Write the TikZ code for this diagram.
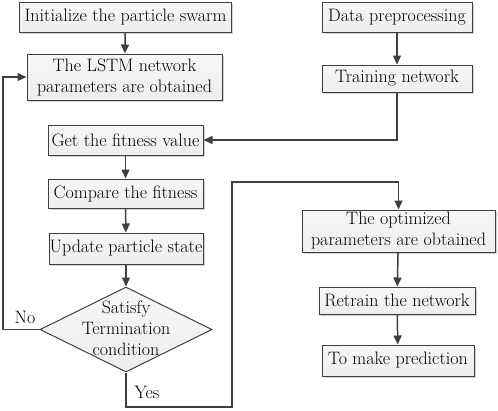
\documentclass[tikz,border=0pt]{standalone}
\usetikzlibrary{shapes.geometric,arrows.meta,shadows}
\definecolor{ln}{HTML}{404040}
\definecolor{bx}{HTML}{EEEEEE}
\begin{document}
\begin{tikzpicture}[x=1pt,y=-1pt,
  every node/.style={font=\fontsize{18}{21}\selectfont},
  box/.style={draw=ln, line width=1pt, top color=white!50!bx, bottom color=bx, inner sep=0pt, align=center,
    drop shadow={shadow xshift=1.5pt, shadow yshift=-1.5pt, fill=gray!45, opacity=0.8}},
  dia/.style={diamond, draw=ln, line width=1pt, top color=white!50!bx, bottom color=bx, inner sep=0pt,
    minimum width=172pt, minimum height=85pt},
  arr/.style={draw=ln, line width=1.5pt, -{Triangle[length=9pt,width=8pt]}},
  lbl/.style={inner sep=0pt}]
\useasboundingbox (0,0) rectangle (498,410);
\node[box, minimum width=212pt, minimum height=30pt] (init) at (125.5,17) {Initialize the particle swarm};
\node[box, minimum width=195pt, minimum height=46pt] (lstm) at (124.5,77) {The LSTM network\\parameters are obtained};
\node[box, minimum width=155pt, minimum height=30pt] (fit) at (125.5,140) {Get the fitness value};
\node[box, minimum width=155pt, minimum height=29pt] (comp) at (125.5,193.5) {Compare the fitness};
\node[box, minimum width=154pt, minimum height=31pt] (upd) at (126,248.5) {Update particle state};
\node[dia] (d) at (126,329.5) {};
\node[lbl, align=center] (dt) at (126,328) {Satisfy\\Termination\\condition};
\node[box, minimum width=150pt, minimum height=30pt] (data) at (397,17) {Data preprocessing};
\node[box, minimum width=150pt, minimum height=27pt] (train) at (397,78.5) {Training network};
\node[box, minimum width=193pt, minimum height=42pt] (opt) at (398.5,231) {The optimized\\parameters are obtained};
\node[box, minimum width=156pt, minimum height=27pt] (retr) at (397,300.5) {Retrain the network};
\node[box, minimum width=152pt, minimum height=31pt] (pred) at (398,360.5) {To make prediction};
\node[lbl] (no) at (25,317) {No};
\node[lbl] (yes) at (147,392) {Yes};
\coordinate (nl) at (3,329.5);
\coordinate (y1) at (126,407);
\coordinate (y2) at (232,407);
\coordinate (y3) at (232,182);
\coordinate (y4) at (398.5,182);
\draw[arr] (init) -- (lstm);
\draw[arr] (fit) -- (comp);
\draw[arr] (comp) -- (upd);
\draw[arr] (upd) -- (d.north);
\draw[arr] (data) -- (train);
\draw[arr] (train.south) |- (fit.east);
\draw[arr] (d.west) -- (nl) |- (lstm.west);
\draw[arr] (d.south) -- (y1) -- (y2) -- (y3) -- (y4) -- (opt.north);
\draw[arr] (opt) -- (retr);
\draw[arr] (retr) -- (pred);
\end{tikzpicture}
\end{document}
